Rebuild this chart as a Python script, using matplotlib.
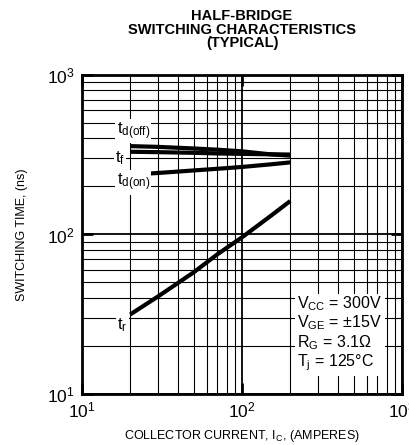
import matplotlib
matplotlib.use("Agg")
import matplotlib.pyplot as plt
from matplotlib.ticker import LogLocator, NullFormatter

plt.rcParams['font.family'] = ['Liberation Sans', 'DejaVu Sans']
plt.rcParams['mathtext.fontset'] = 'custom'
plt.rcParams['mathtext.rm'] = 'Liberation Sans'
plt.rcParams['mathtext.it'] = 'Liberation Sans'
plt.rcParams['mathtext.default'] = 'regular'

# collector current (A)
ic = [20, 30, 50, 70, 100, 150, 200]

# switching times (ns)
td_off = [358, 354, 346, 340, 332, 318, 312]
t_f = [330, 328, 325, 322, 320, 318, 317]
td_on = [237, 243, 252, 258, 265, 275, 283]
t_r = [31.5, 41, 58, 75, 96, 130, 162]

fig = plt.figure(figsize=(4.09, 4.45), dpi=100)
ax = fig.add_axes([0.2005, 0.1146, 0.7825, 0.717])

ax.set_xscale('log')
ax.set_yscale('log')
ax.set_xlim(10, 1000)
ax.set_ylim(10, 1000)

ax.xaxis.set_minor_locator(LogLocator(base=10, subs=range(2, 10)))
ax.yaxis.set_minor_locator(LogLocator(base=10, subs=range(2, 10)))
ax.xaxis.set_minor_formatter(NullFormatter())
ax.yaxis.set_minor_formatter(NullFormatter())

ax.grid(which='minor', color='black', lw=0.8)
ax.grid(which='major', color='black', lw=1.3)
ax.tick_params(which='major', direction='in', length=8, width=2,
               top=True, right=True, labelsize=12.5, pad=5)
ax.tick_params(which='minor', length=0)
for s in ax.spines.values():
    s.set_linewidth(2)

for y in (td_off, t_f, td_on, t_r):
    ax.plot(ic, y, color='black', lw=3, solid_capstyle='butt', zorder=3)

box = dict(facecolor='white', edgecolor='none', pad=1)
ax.text(20.9, 443, r'$t_{d(off)}$', fontsize=12, ha='center', va='center', bbox=box, zorder=4)
ax.text(17.3, 300, r'$t_f$', fontsize=12, ha='center', va='center', bbox=box, zorder=4)
ax.text(20.9, 212, r'$t_{d(on)}$', fontsize=12, ha='center', va='center', bbox=box, zorder=4)
ax.text(17.8, 27, r'$t_r$', fontsize=12, ha='center', va='center', bbox=box, zorder=4)

ax.text(222, 42.2, '$V_{CC}$ = 300V\n$V_{GE}$ = ±15V\n$R_G$ = 3.1Ω\n$T_j$ = 125°C',
        fontsize=11.5, ha='left', va='top', linespacing=1.05,
        bbox=dict(facecolor='white', edgecolor='none', pad=2), zorder=4)

ax.set_title('HALF-BRIDGE\nSWITCHING CHARACTERISTICS\n(TYPICAL)',
             fontsize=10.5, fontweight='bold', linespacing=0.95, pad=20)
ax.set_xlabel('COLLECTOR CURRENT, $I_C$, (AMPERES)', fontsize=9, labelpad=5)
ax.set_ylabel('SWITCHING TIME, (ns)', fontsize=9, labelpad=14)

fig.savefig('out.png', dpi=100)
